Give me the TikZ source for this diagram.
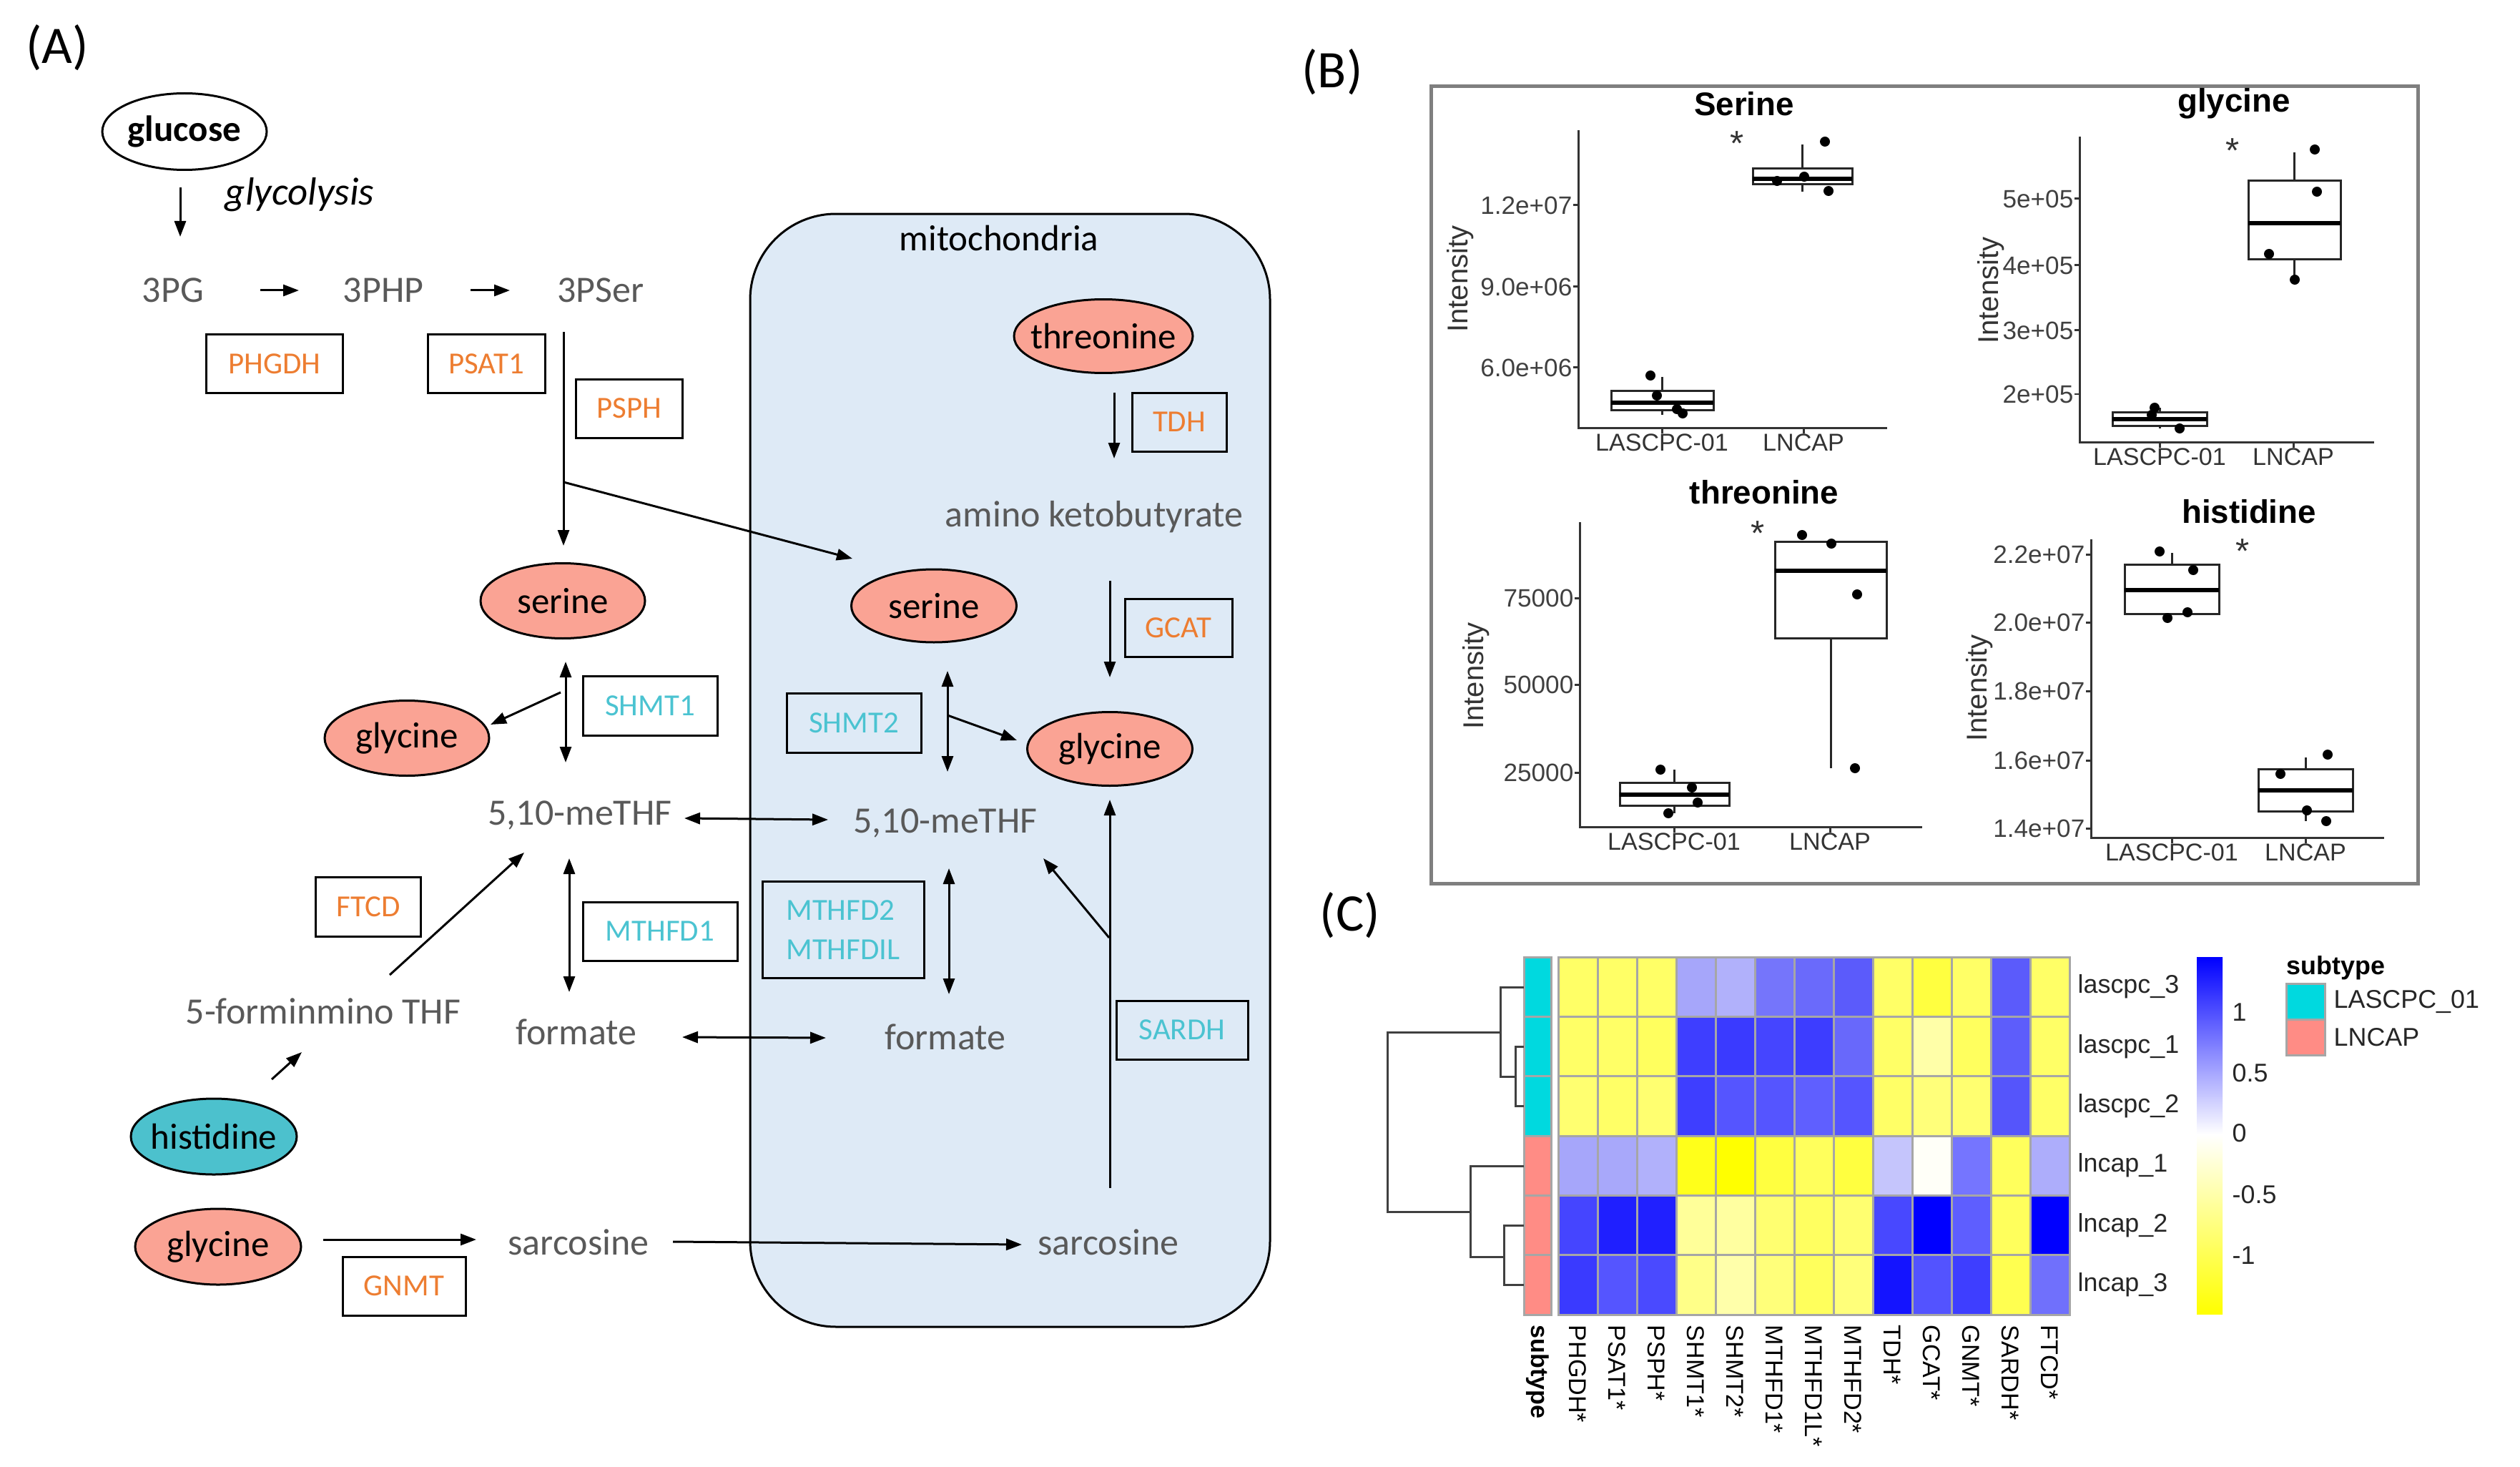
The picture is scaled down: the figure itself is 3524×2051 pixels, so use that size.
\documentclass[tikz,border=0pt]{standalone}
\usepackage{fontspec}
\setmainfont{Carlito}
\newfontfamily\arialf{Liberation Sans}
\usetikzlibrary{shapes.geometric,arrows.meta}
\definecolor{metgray}{HTML}{595959}
\definecolor{orng}{HTML}{ED7D31}
\definecolor{cyanenz}{HTML}{4BC3D1}
\definecolor{salm}{HTML}{FAA394}
\definecolor{hisc}{HTML}{4CC1CD}
\definecolor{mitoblue}{HTML}{DEEAF6}
\definecolor{framegray}{HTML}{7F7F7F}
\definecolor{gridgray}{HTML}{A6A6A6}
\definecolor{dendc}{HTML}{404040}
\definecolor{subcyan}{HTML}{00D9DF}
\definecolor{subsalm}{HTML}{FF8C85}
\newcommand{\fsz}[1]{\fontsize{#1pt}{#1pt}\selectfont}
\newcommand{\zb}[1]{\makebox[0pt]{#1}}
\newcommand{\bxplot}[7]{%
  \draw[bxl] ({(#1+#2)/2},#6) -- ({(#1+#2)/2},#3);
  \draw[bxl] ({(#1+#2)/2},#4) -- ({(#1+#2)/2},#7);
  \draw[bxl] (#1,#3) rectangle (#2,#4);
  \draw[medl] (#1,#5) -- (#2,#5);}
\tikzset{
  met/.style={text=metgray,font=\fsz{14.8},inner sep=0pt},
  enzo/.style={draw,line width=0.3mm,inner sep=0pt,text=orng,font=\fsz{12.2}},
  enzc/.style={draw,line width=0.3mm,inner sep=0pt,text=cyanenz,font=\fsz{12.2}},
  ell/.style={ellipse,draw,line width=0.3mm,inner sep=0pt,fill=salm,font=\fsz{14.5},minimum width=23mm,minimum height=10.5mm},
  arr/.style={line width=0.3mm,-{Triangle[length=2.2mm,width=1.6mm]}},
  darr/.style={line width=0.3mm,{Triangle[length=2.2mm,width=1.6mm]}-{Triangle[length=2.2mm,width=1.6mm]}},
  plab/.style={font=\fsz{21},inner sep=0pt},
  ttl/.style={font=\arialf\bfseries\fsz{13},inner sep=0pt},
  tck/.style={font=\arialf\fsz{10},inner sep=0pt,text=black!75,anchor=east},
  ylab/.style={font=\arialf\fsz{11.4},rotate=90,inner sep=0pt,text=black!80},
  xlab/.style={font=\arialf\fsz{9.7},inner sep=0pt,anchor=north,text=black!80},
  axl/.style={line width=0.3mm,black!80},
  bxl/.style={line width=0.3mm,black!85},
  medl/.style={line width=0.6mm,black},
  starm/.style={font=\arialf\fsz{14},inner sep=0pt,text=black!80},
  hmlab/.style={font=\arialf\fsz{10.2},inner sep=0pt,anchor=west,text=black!85},
  collab/.style={font=\arialf\fsz{9.7},inner sep=0pt,anchor=west,rotate=-90,text=black},
  dendl/.style={line width=0.3mm,dendc},
}
\begin{document}
\begin{tikzpicture}[x=0.1mm,y=-0.1mm]
\useasboundingbox (0,0) rectangle (3524,2051);
% ================= Panel A =================
\node[plab] (labA) at (80,67) {(A)};
% mitochondria background
\node[draw,line width=0.3mm,fill=mitoblue,rounded corners=12mm,minimum width=72.7mm,minimum height=155.6mm,inner sep=0pt] (mito) at (1412.5,1077) {};
\node[font=\fsz{14.5},inner sep=0pt] (mitolab) at (1397,333) {mitochondria};

\node[ellipse,draw,line width=0.3mm,fill=white,inner sep=0pt,minimum width=23mm,minimum height=10.7mm,font=\bfseries\fsz{14.5}] (glucose) at (258,184) {\zb{glucose}};
\node[font=\itshape\fsz{15.6},inner sep=0pt] (glyco) at (419,272) {glycolysis};
\coordinate (gA) at (252,262); \coordinate (gB) at (252,331);
\draw[arr] (gA) -- (gB);

\node[met] (pg) at (242,406) {3PG};
\node[met] (php) at (536,406) {3PHP};
\node[met] (pser) at (840,406) {3PSer};
\coordinate (a1s) at (364,406); \coordinate (a1e) at (418,406);
\coordinate (a2s) at (658,406); \coordinate (a2e) at (713,406);
\draw[arr] (a1s) -- (a1e);
\draw[arr] (a2s) -- (a2e);
\node[enzo,minimum width=19.1mm,minimum height=8.2mm] (phgdh) at (384,509) {PHGDH};
\node[enzo,minimum width=16.4mm,minimum height=8.2mm] (psat) at (680,509) {PSAT1};
\node[enzo,minimum width=14.9mm,minimum height=8.2mm] (psph) at (880,571) {PSPH};

\node[ell] (serc) at (787,840) {\zb{serine}};
\coordinate (vs) at (788,464); \coordinate (vbr) at (788,674); \coordinate (vse) at (788,763);
\draw[arr] (vs) -- (vse);
\coordinate (diagE) at (1192,781);

\coordinate (sh1t) at (791,925); \coordinate (sh1b) at (791,1066);
\draw[darr] (sh1t) -- (sh1b);
\node[ell] (glyc) at (569,1032) {\zb{glycine}};
\coordinate (sh1g) at (784,968); \coordinate (sh1ge) at (686,1013);
\draw[arr] (sh1g) -- (sh1ge);
\node[enzc,minimum width=18.8mm,minimum height=8.3mm] (shmt1) at (909,987) {SHMT1};

\node[met] (thfc) at (811,1140) {5,10-meTHF};
\node[enzo,minimum width=14.7mm,minimum height=8.3mm] (ftcd) at (515,1268) {FTCD};
\coordinate (fts) at (545,1363); \coordinate (fte) at (733,1192);
\draw[arr] (fts) -- (fte);
\coordinate (m1t) at (796,1200); \coordinate (m1b) at (796,1387);
\draw[darr] (m1t) -- (m1b);
\node[enzc,minimum width=21.6mm,minimum height=8.2mm] (mthfd1) at (923,1302) {MTHFD1};
\node[met] (fthf) at (452,1414) {5-forminmino THF};
\node[met] (formc) at (806,1443) {formate};

\coordinate (hs) at (380,1509); \coordinate (he) at (422,1471);
\draw[arr] (hs) -- (he);
\node[ell,fill=hisc,minimum width=23.2mm,minimum height=10.6mm] (his) at (299,1589) {\zb{histidine}};
\node[ell,minimum width=23.2mm,minimum height=10.6mm] (glyb) at (305,1743) {\zb{glycine}};
\coordinate (gns) at (452,1733); \coordinate (gne) at (666,1733);
\draw[arr] (gns) -- (gne);
\node[met] (sarc) at (809,1737) {sarcosine};
\node[enzo,minimum width=17.2mm,minimum height=8.2mm] (gnmt) at (565,1798) {GNMT};

% mitochondria content
\node[ell,minimum width=25mm,minimum height=10.3mm] (thr) at (1543,470) {\zb{threonine}};
\coordinate (tdhs) at (1558,549); \coordinate (tdhe) at (1558,641);
\draw[arr] (tdhs) -- (tdhe);
\node[enzo,minimum width=13.2mm,minimum height=8.2mm] (tdh) at (1649,590) {TDH};
\node[met] (akb) at (1530,723) {amino ketobutyrate};
\node[ell,minimum width=23.1mm,minimum height=10.2mm] (serm) at (1306,847) {\zb{serine}};
\coordinate (gcs) at (1552,812); \coordinate (gce) at (1552,947);
\draw[arr] (gcs) -- (gce);
\node[enzo,minimum width=15mm,minimum height=8.1mm] (gcat) at (1648,878) {GCAT};
\coordinate (sh2t) at (1325,938); \coordinate (sh2b) at (1325,1079);
\draw[darr] (sh2t) -- (sh2b);
\node[ell,minimum width=23.1mm,minimum height=10.3mm] (glym) at (1552,1047) {\zb{glycine}};
\coordinate (sh2g) at (1325,1000); \coordinate (sh2ge) at (1422,1035);
\draw[arr] (sh2g) -- (sh2ge);
\node[enzc,minimum width=18.8mm,minimum height=8.3mm] (shmt2) at (1194,1011) {SHMT2};
\node[met] (thfm) at (1322,1151) {5,10-meTHF};
\coordinate (m2t) at (1327,1214); \coordinate (m2b) at (1327,1390);
\draw[darr] (m2t) -- (m2b);
\node[enzc,minimum width=22.6mm,minimum height=13.5mm,align=left,font=\fontsize{12.2pt}{15.6pt}\selectfont] (mthfd2) at (1179,1300) {MTHFD2\\MTHFDIL};
\node[met] (formm) at (1322,1450) {formate};
\coordinate (sdb) at (1552,1661); \coordinate (sdt) at (1552,1118);
\draw[arr] (sdb) -- (sdt);
\coordinate (sdm) at (1551,1311); \coordinate (sdme) at (1459,1200);
\draw[arr] (sdm) -- (sdme);
\node[enzc,minimum width=18.4mm,minimum height=8.2mm] (sardh) at (1653,1440) {SARDH};
\node[met] (sarm) at (1550,1737) {sarcosine};

% connectors crossing membrane
\draw[arr] (vbr) -- (diagE);
\coordinate (tl) at (957,1144); \coordinate (tr) at (1158,1146);
\draw[darr] (tl) -- (tr);
\coordinate (fl) at (954,1450); \coordinate (fr) at (1155,1451);
\draw[darr] (fl) -- (fr);
\coordinate (ss) at (941,1736); \coordinate (se) at (1429,1740);
\draw[arr] (ss) -- (se);

% ================= Panel B =================
\node[plab] (labB) at (1863,101) {(B)};
\node[draw=framegray,line width=0.5mm,minimum width=138mm,minimum height=111.5mm,inner sep=0pt] (frameB) at (2691,677.5) {};

% Serine
\node[ttl] (tSer) at (2439,145) {Serine};
\draw[axl] (2207,182) -- (2207,598) -- (2639,598);
\foreach \v/\yy [count=\k] in {1.2e+07/287,9.0e+06/401,6.0e+06/514}{
  \draw[axl] (2207,\yy) -- (2200,\yy);
  \node[tck] (sert\k) at (2199,\yy) {\v};}
\draw[axl] (2324,598) -- (2324,606); \draw[axl] (2522,598) -- (2522,606);
\node[xlab] (serx1) at (2324,606) {LASCPC-01};
\node[xlab] (serx2) at (2522,606) {LNCAP};
\node[ylab] (sery) at (2042,390) {Intensity};
\bxplot{2253}{2396}{547}{573}{563}{527}{580}
\bxplot{2451}{2590}{236}{258}{250}{202}{268}
\foreach \p in {(2308,525),(2317,553),(2353,578),(2345,572),(2552,198),(2523,247),(2557,267),(2485,253)} \fill \p circle (7);
\node[starm] (serst) at (2429,201) {*};

% glycine
\node[ttl] (tGly) at (3124,145) {glycine};
\draw[axl] (2908,191) -- (2908,618) -- (3320,618);
\foreach \v/\yy [count=\k] in {5e+05/278,4e+05/371,3e+05/462,2e+05/551}{
  \draw[axl] (2908,\yy) -- (2901,\yy);
  \node[tck] (glyt\k) at (2900,\yy) {\v};}
\draw[axl] (3020,618) -- (3020,626); \draw[axl] (3207,618) -- (3207,626);
\node[xlab] (glyx1) at (3020,626) {LASCPC-01};
\node[xlab] (glyx2) at (3207,626) {LNCAP};
\node[ylab] (glyy) at (2784,406) {Intensity};
\bxplot{2954}{3086}{576}{595}{586}{570}{599}
\bxplot{3144}{3273}{253}{363}{312}{213}{390}
\foreach \p in {(3013,570),(3009,580),(3048,599),(3237,209),(3240,268),(3173,355),(3209,391)} \fill \p circle (7);
\node[starm] (glyst) at (3122,211) {*};

% threonine
\node[ttl] (tThr) at (2467,688) {threonine};
\draw[axl] (2209,730) -- (2209,1156) -- (2688,1156);
\foreach \v/\yy [count=\k] in {75000/836,50000/957,25000/1080}{
  \draw[axl] (2209,\yy) -- (2202,\yy);
  \node[tck] (thrt\k) at (2201,\yy) {\v};}
\draw[axl] (2341,1156) -- (2341,1164); \draw[axl] (2559,1156) -- (2559,1164);
\node[xlab] (thrx1) at (2341,1164) {LASCPC-01};
\node[xlab] (thrx2) at (2559,1164) {LNCAP};
\node[ylab] (thry) at (2064,945) {Intensity};
\bxplot{2265}{2418}{1094}{1126}{1111}{1076}{1137}
\bxplot{2482}{2638}{757}{892}{798}{757}{1074}
\foreach \p in {(2322,1076),(2366,1101),(2374,1122),(2333,1137),(2520,748),(2561,760),(2597,831),(2594,1074)} \fill \p circle (7);
\node[starm] (thrst) at (2458,746) {*};

% histidine
\node[ttl] (tHis) at (3145,715) {histidine};
\draw[axl] (2924,754) -- (2924,1171) -- (3334,1171);
\foreach \v/\yy [count=\k] in {2.2e+07/775,2.0e+07/870,1.8e+07/966,1.6e+07/1063,1.4e+07/1158}{
  \draw[axl] (2924,\yy) -- (2917,\yy);
  \node[tck] (hist\k) at (2916,\yy) {\v};}
\draw[axl] (3037,1171) -- (3037,1179); \draw[axl] (3224,1171) -- (3224,1179);
\node[xlab] (hisx1) at (3037,1179) {LASCPC-01};
\node[xlab] (hisx2) at (3224,1179) {LNCAP};
\node[ylab] (hisy) at (2768,962) {Intensity};
\bxplot{2971}{3103}{789}{858}{825}{773}{858}
\bxplot{3158}{3290}{1075}{1134}{1105}{1059}{1148}
\foreach \p in {(3020,771),(3067,797),(3031,864),(3059,856),(3255,1055),(3189,1082),(3226,1133),(3253,1148)} \fill \p circle (7);
\node[starm] (hisst) at (3136,771) {*};

% ================= Panel C =================
\node[plab] (labC) at (1888,1280) {(C)};
% subtype column
\foreach \sc [count=\i] in {subcyan,subcyan,subcyan,subsalm,subsalm,subsalm}{
  \fill[\sc,draw=gridgray,line width=0.3mm] (2131,{1338+83.333*(\i-1)}) rectangle ++(38,83.333);}
% heatmap cells
\foreach \row [count=\i] in {
 {FFFF66,FFFF66,FFFF66,A6A6FA,B1B1FB,7575FB,6A6AFB,5B5BFB,FFFF66,FFFF40,FFFF66,5B5BFB,FFFF66},
 {FFFF66,FFFF66,FFFF5E,3E3EFF,3A3AFF,4545FF,3D3DFF,6868FB,FFFF66,FFFFA8,FFFF5E,5D5DFB,FFFF66},
 {FFFF70,FFFF66,FFFF70,3E3EFF,5555FF,5555FF,5F5FFF,5555FF,FFFF66,FFFF7A,FFFF70,5555FB,FFFF66},
 {A6A6FA,A8A8FA,B1B1FB,FFFF1A,FFFF00,FFFF40,FFFF5C,FFFF40,C5C5FC,FFFFF8,7575FF,FFFF5C,ADADFB},
 {4545FF,1F1FFF,2020FF,FFFF99,FFFFA0,FFFF70,FFFF60,FFFF70,4848FF,0000FF,5E5EFF,FFFF5C,0000FF},
 {3A3AFF,5555FF,4A4AFF,FFFF88,FFFFAA,FFFF7A,FFFF5C,FFFF7A,1414FF,5353FF,3E3EFF,FFFF50,7070FC}}{
  \foreach \hc [count=\j] in \row {
    \definecolor{cellc}{HTML}{\hc}
    \fill[cellc,draw=gridgray,line width=0.3mm] ({2179+55*(\j-1)},{1338+83.333*(\i-1)}) rectangle ++(55,83.333);
  }
}
% row labels
\foreach \t [count=\i] in {lascpc\_3,lascpc\_1,lascpc\_2,lncap\_1,lncap\_2,lncap\_3}{
  \node[hmlab] (rl\i) at (2905,{1338+83.333*(\i-0.5)}) {\t};}
% column labels
\node[collab,font=\arialf\bfseries\fsz{9.7}] (clsub) at (2150,1852) {subtype};
\foreach \t [count=\j] in {PHGDH*,PSAT1*,PSPH*,SHMT1*,SHMT2*,MTHFD1*,MTHFD1L*,MTHFD2*,TDH*,GCAT*,GNMT*,SARDH*,FTCD*}{
  \node[collab] (cl\j) at ({2179+55*(\j-0.5)},1852) {\t};}
% dendrogram
\draw[dendl] (2131,1380) -- (2098,1380) -- (2098,1505) -- (2119,1505);
\draw[dendl] (2131,1463) -- (2119,1463) -- (2119,1546) -- (2131,1546);
\draw[dendl] (2098,1443) -- (1940,1443) -- (1940,1694) -- (2056,1694);
\draw[dendl] (2131,1630) -- (2056,1630) -- (2056,1757) -- (2103,1757);
\draw[dendl] (2131,1713) -- (2103,1713) -- (2103,1796) -- (2131,1796);
% colour bar
\shade[top color=blue,bottom color=white] (3072,1338) rectangle (3108,1586);
\shade[top color=white,bottom color=yellow] (3072,1586) rectangle (3108,1837);
\foreach \v/\yy [count=\k] in {1/1415,0.5/1500,0/1584,-0.5/1670,-1/1755}{
  \node[hmlab] (cb\k) at (3121,\yy) {\v};}
% legend
\node[font=\arialf\bfseries\fsz{10.2},inner sep=0pt,anchor=west] (legt) at (3197,1353) {subtype};
\fill[subcyan,draw=gridgray,line width=0.3mm] (3197,1375) rectangle (3251,1425);
\fill[subsalm,draw=gridgray,line width=0.3mm] (3197,1425) rectangle (3251,1475);
\node[hmlab] (leg1) at (3263,1401) {LASCPC\_01};
\node[hmlab] (leg2) at (3263,1450) {LNCAP};
\end{tikzpicture}
\end{document}
